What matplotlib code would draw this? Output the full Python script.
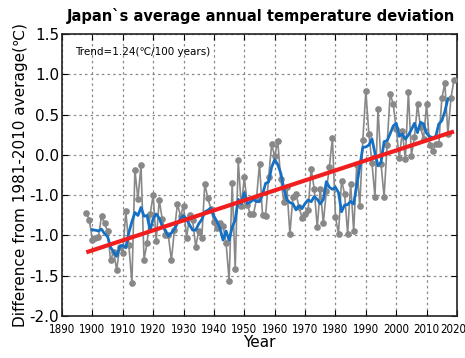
import numpy as np
import matplotlib
matplotlib.use("Agg")
import matplotlib.pyplot as plt
from matplotlib.transforms import ScaledTranslation

# Annual mean temperature anomaly for Japan (deg C, relative to 1981-2010)
years = np.arange(1898, 2020)
anomaly = [
    -0.72, -0.81, -1.06, -1.03, -1.02, -0.76, -0.85, -0.95, -1.31, -1.20,  # 1898-1907
    -1.43, -1.14, -1.22, -0.70, -1.12, -1.59, -0.19, -0.55, -0.13, -1.30,  # 1908-1917
    -1.09, -0.74, -0.50, -1.07, -0.56, -0.80, -1.00, -1.00, -1.31, -0.93,  # 1918-1927
    -0.61, -0.76, -0.63, -1.03, -0.75, -0.81, -1.14, -0.94, -1.03, -0.36,  # 1928-1937
    -0.54, -0.67, -0.83, -0.91, -0.85, -0.88, -1.09, -1.56, -0.35, -1.42,  # 1938-1947
    -0.07, -0.64, -0.28, -0.62, -0.74, -0.74, -0.55, -0.11, -0.75, -0.76,  # 1948-1957
    -0.28,  0.13, -0.02,  0.17, -0.30, -0.58, -0.40, -0.98, -0.52, -0.48,  # 1958-1967
    -0.65, -0.78, -0.74, -0.68, -0.17, -0.42, -0.90, -0.42, -0.85, -0.45,  # 1968-1977
    -0.15,  0.21, -0.77, -0.98, -0.32, -0.48, -0.98, -0.36, -0.95, -0.12,  # 1978-1987
    -0.64,  0.18,  0.79,  0.26, -0.10, -0.52,  0.57, -0.11, -0.52,  0.12,  # 1988-1997
     0.76,  0.63,  0.32, -0.04,  0.29, -0.05,  0.78, -0.01,  0.22,  0.63,  # 1998-2007
     0.34,  0.20,  0.63,  0.12,  0.05,  0.14,  0.13,  0.70,  0.89,  0.26,  # 2008-2017
     0.70,  0.93,                                                          # 2018-2019
]
trend_per_century = 1.24

title = "Japan`s average annual temperature deviation"
ylabel = "Difference from 1981-2010 average(\u2103)"
xlabel = "Year"
trend_text = "Trend=1.24(\u2103/100 years)"
xticks = list(range(1890, 2021, 10))
yticks = [-2.0, -1.5, -1.0, -0.5, 0.0, 0.5, 1.0, 1.5]
ytick_labels = ["-2.0", "-1.5", "-1.0", "-1.0", "0.0", "0.5", "1.0", "1.5"]

anomaly = np.asarray(anomaly)

# 5-year centred running mean
window = 5
running = np.convolve(anomaly, np.ones(window) / window, mode="valid")
running_years = years[window // 2: len(years) - window // 2]

# Linear trend with the stated slope, fitted through the data mean
slope = trend_per_century / 100.0
intercept = anomaly.mean() - slope * years.mean()
trend = intercept + slope * years

fig = plt.figure(figsize=(4.65, 3.58), dpi=100)
ax = fig.add_axes([62 / 465, 1 - 316 / 358, (457 - 62) / 465, (316 - 34) / 358])

ax.plot(years, anomaly, color="#888888", lw=1.2, marker="o", ms=3.8,
        mec="#888888", mfc="#888888", zorder=3)
ax.plot(running_years, running, color="#1470c4", lw=2.0, zorder=4)
ax.plot(years, trend, color="#f01e1e", lw=3.0, zorder=5, solid_capstyle="butt")

ax.set_xlim(1890, 2020)
ax.set_ylim(-2.0, 1.5)
ax.set_xticks(xticks)
ax.set_xticklabels([str(x) for x in xticks])
ax.set_yticks(yticks)
ax.set_yticklabels(ytick_labels)
ax.tick_params(axis="y", labelsize=11, direction="in", length=4, pad=2,
               right=True)
ax.tick_params(axis="x", labelsize=8, direction="in", length=4, pad=5,
               top=True)
xlabels = ax.get_xticklabels()
for lab in xlabels:
    lab.set_family("DejaVu Sans")
    lab.set_stretch("condensed")
    lab.set_fontsize(8.3)
# nudge the last year label so it stays on the canvas
xlabels[-1].set_transform(xlabels[-1].get_transform()
                          + ScaledTranslation(-4 / 100, 0, fig.dpi_scale_trans))
ax.grid(True, color="#8a8a8a", lw=0.9, ls=(0, (2, 2.5)))
ax.set_axisbelow(True)
for sp in ax.spines.values():
    sp.set_linewidth(1.2)
    sp.set_color("#222222")

ax.text(0.033, 0.953, trend_text, transform=ax.transAxes, fontsize=7.5,
        va="top", ha="left")

fig.text(0.562, 0.955, title, ha="center", va="center", fontsize=10.5,
         fontweight="bold")
ax.set_ylabel(ylabel, fontsize=11, labelpad=1)
ax.set_xlabel(xlabel, fontsize=11, labelpad=-1)

fig.savefig("out.png", dpi=100)
